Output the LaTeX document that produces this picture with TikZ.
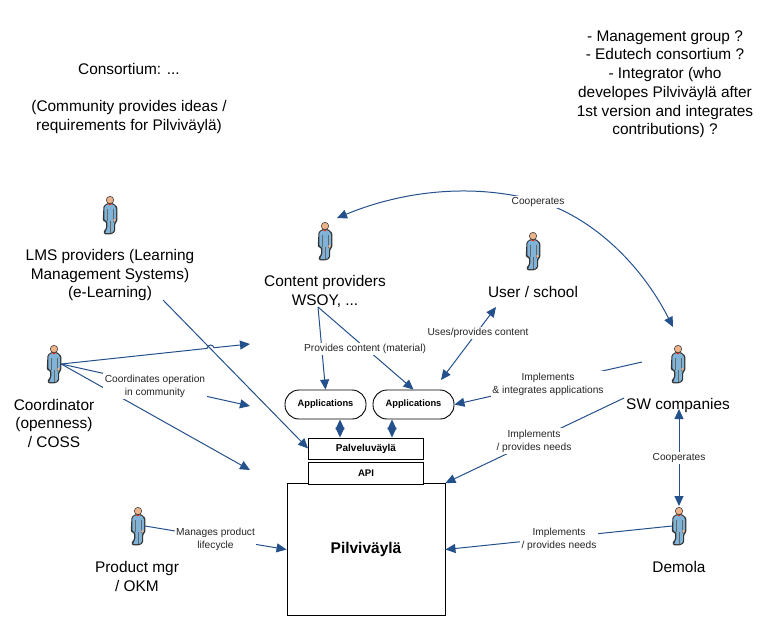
\documentclass[tikz,border=0pt]{standalone}
\usepackage{fontspec}
\setmainfont{Liberation Sans}
\usetikzlibrary{arrows.meta}
\definecolor{linkblue}{HTML}{24508C}
\definecolor{skinc}{HTML}{EDB38A}
\definecolor{suitc}{HTML}{7FB4D8}
\tikzset{
  x=1pt,y=-1pt,
  big/.style={align=center,inner sep=0pt,yshift=-0.2pt,font=\fontsize{15.4}{18.7}\selectfont},
  small/.style={align=center,inner sep=1.5pt,fill=white,text=black!85,font=\fontsize{10.2}{12.8}\selectfont},
  boxb/.style={draw,line width=0.9pt,fill=white,inner sep=0pt,font=\bfseries\fontsize{9.6}{11}\selectfont},
  link/.style={draw=linkblue,line width=1pt,-{Triangle[length=10pt,width=9pt]}},
  twoway/.style={draw=linkblue,line width=1pt,{Triangle[length=10pt,width=9pt]}-{Triangle[length=10pt,width=9pt]}},
  actor/.style={minimum width=14pt,minimum height=38pt,inner sep=0pt},
  person/.pic={
    \fill[black!80,rounded corners=1.2pt] (-6.5,-9) -- (-2.5,-12) -- (3,-12) -- (7.4,-8) -- (7.4,6) -- (5,9) -- (5,17) -- (1,19.4) -- (-5.5,19.4) -- (-6.8,17) -- (-3.8,13) -- (-3.8,7) -- (-7.3,6) -- cycle;
    \fill[suitc,rounded corners=1.2pt] (-5.6,-8.4) -- (-2.2,-11) -- (2.6,-11) -- (6,-7.6) -- (6,5.5) -- (3.8,8) -- (3.8,16.6) -- (0.6,18.2) -- (-4.4,18.2) -- (-4.8,17) -- (-2.6,13.4) -- (-2.6,6) -- (-5.6,5.2) -- cycle;
    \draw[black!60,line width=0.35pt] (-2.6,-6) -- (-2.6,6) (3.2,-6) -- (3.2,7) (0.6,6) -- (0.6,18);
    \fill[red!75!orange] (-2.2,-11.3) -- (2.2,-11.3) -- (0,-9.6) -- cycle;
    \fill[skinc] (4.4,5.2) circle (1.4);
    \draw[black!75,line width=0.6pt,fill=skinc] (0,-15) circle (3.7);
  }
}
\newcommand{\boxtext}[1]{\raisebox{-1pt}{#1}}
\begin{document}
\begin{tikzpicture}
\useasboundingbox (0,0) rectangle (767,641);

% free ends of the connectors
\coordinate (lmsout) at (163,300);
\coordinate (cmid) at (250,344);
\coordinate (clow) at (250,406);
\coordinate (cbot) at (250,470);
\coordinate (cpout) at (318,307);
\coordinate (useend) at (496,307);
\coordinate (append) at (441,380);
\coordinate (swa) at (642,362);
\coordinate (swb) at (624,398);
\coordinate (cooptop) at (679,409);
\coordinate (coopbot) at (679,506);
\coordinate (curvea) at (337,218);
\coordinate (curveb) at (673,327);
\coordinate (jumpa) at (207,348.4);
\coordinate (jumpb) at (214,347.7);

% actors
\node[actor] (lms) at (110,215) {};
\node[actor] (coord) at (54,364) {};
\node[actor] (cp) at (325,241) {};
\node[actor] (user) at (533,251) {};
\node[actor] (sw) at (678,364) {};
\node[actor] (demola) at (679,526) {};
\node[actor] (pm) at (138,526) {};
\foreach \a in {lms,coord,cp,user,sw,demola,pm} \pic at (\a) {person};

% actor names and notes
\node[big] (lmstxt) at (110,275) {LMS providers (Learning\\Management Systems)\\(e-Learning)};
\node[big] (coordtxt) at (54,423) {Coordinator\\(openness)\\/ COSS};
\node[big] (cptxt) at (325,291) {Content providers\\WSOY, ...};
\node[big] (usertxt) at (533,292) {User / school};
\node[big] (swtxt) at (678,405) {SW companies};
\node[big] (demtxt) at (679,567) {Demola};
\node[big] (pmtxt) at (137,576) {Product mgr\\/ OKM};
\node[big] (left) at (129,98) {Consortium: ...\\[18.7pt](Community provides ideas /\\requirements for Pilviväylä)};
\node[big] (right) at (665,84) {- Management group ?\\- Edutech consortium ?\\- Integrator (who\\developes Pilviväylä after\\1st version and integrates\\contributions) ?};

% boxes
\node[boxb,minimum width=158pt,minimum height=132pt,font=\bfseries\fontsize{15.5}{16}\selectfont] (pil) at (366,549.5) {Pilviväylä};
\node[boxb,minimum width=115pt,minimum height=22pt] (api) at (366,473.5) {\boxtext{API}};
\node[boxb,minimum width=115pt,minimum height=21pt,font=\bfseries\fontsize{10}{11}\selectfont] (pal) at (366,448.5) {\boxtext{Palveluväylä}};
\node[boxb,rounded corners=14pt,minimum width=81pt,minimum height=29pt,font=\bfseries\fontsize{9.3}{11}\selectfont] (app1) at (325.5,404.5) {\raisebox{-2pt}{Applications}};
\node[boxb,rounded corners=14pt,minimum width=81pt,minimum height=29pt,font=\bfseries\fontsize{9.3}{11}\selectfont] (app2) at (413.5,404.5) {\raisebox{-2pt}{Applications}};

% connectors
\draw[link] (lmsout) -- (pal.west);
\draw[link] (coord.east) -- (jumpa) .. controls (208,344) and (213,344) .. (jumpb) -- (cmid);
\draw[link] (coord.east) -- (clow);
\draw[link] (coord.east) -- (cbot);
\draw[link] (cpout) -- (app1.north);
\draw[link] (cpout) -- (app2.north);
\draw[twoway] (append) -- (useend);
\draw[link] (swa) -- (app2.east);
\draw[link] (swb) -- (pil.north east);
\draw[link] (demola.west) -- (pil.east);
\draw[link] (pm.east) -- (pil.west);
\draw[twoway] (cooptop) -- (coopbot);
\draw[twoway] (app1.south -| 340,0) -- (pal.north -| 340,0);
\draw[twoway] (app2.south -| 392,0) -- (pal.north -| 392,0);
\draw[twoway] (curvea) .. controls (400,192) and (470,182) .. (538,201) .. controls (590,216) and (640,262) .. (curveb);

% connector labels
\node[small,yshift=-1pt] (lcoord) at (155,385) {Coordinates operation\\in community};
\node[small,yshift=-1pt] (lprov) at (365,348) {Provides content (material)};
\node[small,yshift=-1pt] (luse) at (478,332) {Uses/provides content};
\node[small,yshift=-1pt] (limp) at (548,383) {Implements\\\& integrates applications};
\node[small,yshift=-1pt] (lneed) at (534,440) {Implements\\/ provides needs};
\node[small,yshift=-1pt] (ldem) at (559,538) {Implements\\/ provides needs};
\node[small,yshift=-1pt] (lcoop) at (679,457) {Cooperates};
\node[small,yshift=-1pt] (lcurve) at (538,201) {Cooperates};
\node[small,yshift=-1pt] (lman) at (215.5,538) {Manages product\\lifecycle};
\end{tikzpicture}
\end{document}
